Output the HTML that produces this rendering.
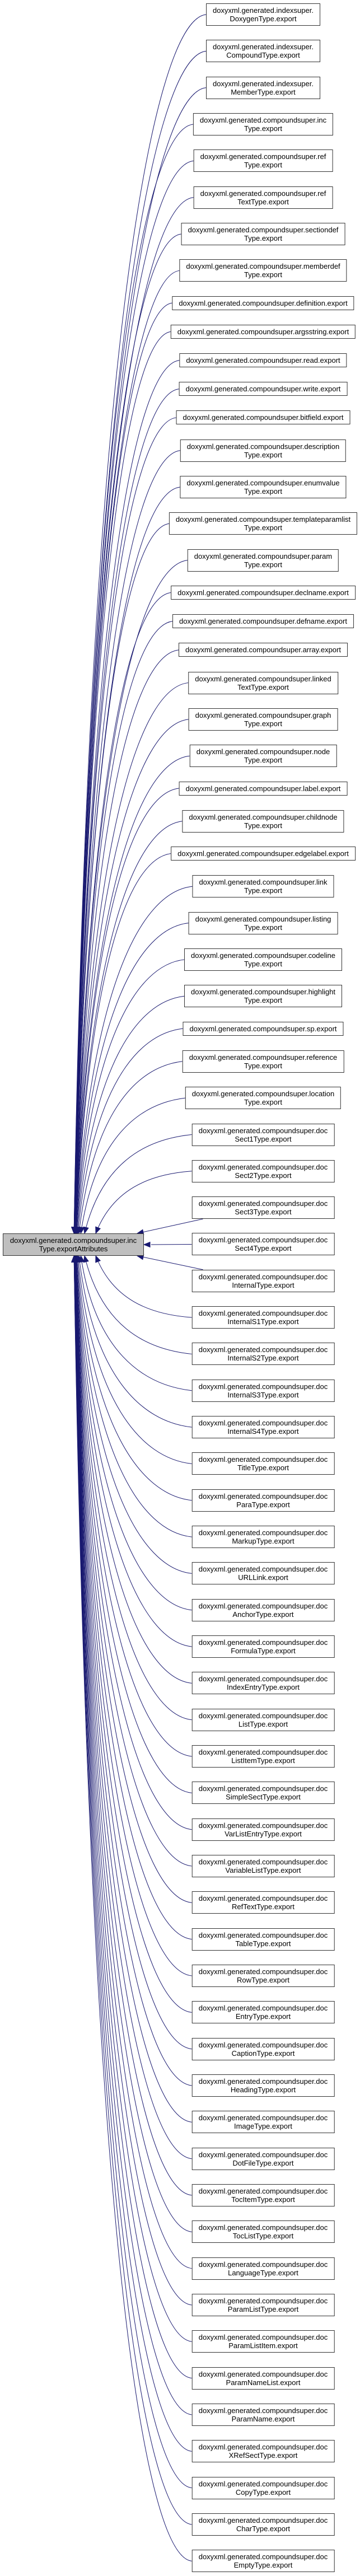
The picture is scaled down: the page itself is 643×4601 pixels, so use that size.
<!DOCTYPE html>
<html><head><meta charset="utf-8">
<style>
html,body{margin:0;padding:0;background:#fff;}
body{width:643px;height:4601px;position:relative;overflow:hidden;font-family:"Liberation Sans",Arial,sans-serif;}
.n{position:absolute;box-sizing:border-box;border:1px solid #333;background:#fff;white-space:nowrap;text-align:center;font-size:13px;line-height:15px;padding:4px 11px;color:#000;transform:translateX(-50%);}
.n.s{padding:4px 11px;height:25px;line-height:15px;}
.n.d{height:40px;}
#m{position:absolute;left:5px;top:2203px;width:252px;height:40px;box-sizing:border-box;border:1px solid #333;background:#bfbfbf;text-align:center;font-size:13px;line-height:15px;padding-top:4px;white-space:nowrap;}
svg{position:absolute;left:0;top:0;}
</style></head><body>
<svg id="e" width="643" height="4601" xmlns="http://www.w3.org/2000/svg"></svg>
<div id="m">doxyxml.generated.compoundsuper.inc<br>Type.exportAttributes</div>
<div id="nodes">
<div class="n d">doxyxml.generated.indexsuper.<br>DoxygenType.export</div>
<div class="n d">doxyxml.generated.indexsuper.<br>CompoundType.export</div>
<div class="n d">doxyxml.generated.indexsuper.<br>MemberType.export</div>
<div class="n d">doxyxml.generated.compoundsuper.inc<br>Type.export</div>
<div class="n d">doxyxml.generated.compoundsuper.ref<br>Type.export</div>
<div class="n d">doxyxml.generated.compoundsuper.ref<br>TextType.export</div>
<div class="n d">doxyxml.generated.compoundsuper.sectiondef<br>Type.export</div>
<div class="n d">doxyxml.generated.compoundsuper.memberdef<br>Type.export</div>
<div class="n s">doxyxml.generated.compoundsuper.definition.export</div>
<div class="n s">doxyxml.generated.compoundsuper.argsstring.export</div>
<div class="n s">doxyxml.generated.compoundsuper.read.export</div>
<div class="n s">doxyxml.generated.compoundsuper.write.export</div>
<div class="n s">doxyxml.generated.compoundsuper.bitfield.export</div>
<div class="n d">doxyxml.generated.compoundsuper.description<br>Type.export</div>
<div class="n d">doxyxml.generated.compoundsuper.enumvalue<br>Type.export</div>
<div class="n d">doxyxml.generated.compoundsuper.templateparamlist<br>Type.export</div>
<div class="n d">doxyxml.generated.compoundsuper.param<br>Type.export</div>
<div class="n s">doxyxml.generated.compoundsuper.declname.export</div>
<div class="n s">doxyxml.generated.compoundsuper.defname.export</div>
<div class="n s">doxyxml.generated.compoundsuper.array.export</div>
<div class="n d">doxyxml.generated.compoundsuper.linked<br>TextType.export</div>
<div class="n d">doxyxml.generated.compoundsuper.graph<br>Type.export</div>
<div class="n d">doxyxml.generated.compoundsuper.node<br>Type.export</div>
<div class="n s">doxyxml.generated.compoundsuper.label.export</div>
<div class="n d">doxyxml.generated.compoundsuper.childnode<br>Type.export</div>
<div class="n s">doxyxml.generated.compoundsuper.edgelabel.export</div>
<div class="n d">doxyxml.generated.compoundsuper.link<br>Type.export</div>
<div class="n d">doxyxml.generated.compoundsuper.listing<br>Type.export</div>
<div class="n d">doxyxml.generated.compoundsuper.codeline<br>Type.export</div>
<div class="n d">doxyxml.generated.compoundsuper.highlight<br>Type.export</div>
<div class="n s">doxyxml.generated.compoundsuper.sp.export</div>
<div class="n d">doxyxml.generated.compoundsuper.reference<br>Type.export</div>
<div class="n d">doxyxml.generated.compoundsuper.location<br>Type.export</div>
<div class="n d">doxyxml.generated.compoundsuper.doc<br>Sect1Type.export</div>
<div class="n d">doxyxml.generated.compoundsuper.doc<br>Sect2Type.export</div>
<div class="n d">doxyxml.generated.compoundsuper.doc<br>Sect3Type.export</div>
<div class="n d">doxyxml.generated.compoundsuper.doc<br>Sect4Type.export</div>
<div class="n d">doxyxml.generated.compoundsuper.doc<br>InternalType.export</div>
<div class="n d">doxyxml.generated.compoundsuper.doc<br>InternalS1Type.export</div>
<div class="n d">doxyxml.generated.compoundsuper.doc<br>InternalS2Type.export</div>
<div class="n d">doxyxml.generated.compoundsuper.doc<br>InternalS3Type.export</div>
<div class="n d">doxyxml.generated.compoundsuper.doc<br>InternalS4Type.export</div>
<div class="n d">doxyxml.generated.compoundsuper.doc<br>TitleType.export</div>
<div class="n d">doxyxml.generated.compoundsuper.doc<br>ParaType.export</div>
<div class="n d">doxyxml.generated.compoundsuper.doc<br>MarkupType.export</div>
<div class="n d">doxyxml.generated.compoundsuper.doc<br>URLLink.export</div>
<div class="n d">doxyxml.generated.compoundsuper.doc<br>AnchorType.export</div>
<div class="n d">doxyxml.generated.compoundsuper.doc<br>FormulaType.export</div>
<div class="n d">doxyxml.generated.compoundsuper.doc<br>IndexEntryType.export</div>
<div class="n d">doxyxml.generated.compoundsuper.doc<br>ListType.export</div>
<div class="n d">doxyxml.generated.compoundsuper.doc<br>ListItemType.export</div>
<div class="n d">doxyxml.generated.compoundsuper.doc<br>SimpleSectType.export</div>
<div class="n d">doxyxml.generated.compoundsuper.doc<br>VarListEntryType.export</div>
<div class="n d">doxyxml.generated.compoundsuper.doc<br>VariableListType.export</div>
<div class="n d">doxyxml.generated.compoundsuper.doc<br>RefTextType.export</div>
<div class="n d">doxyxml.generated.compoundsuper.doc<br>TableType.export</div>
<div class="n d">doxyxml.generated.compoundsuper.doc<br>RowType.export</div>
<div class="n d">doxyxml.generated.compoundsuper.doc<br>EntryType.export</div>
<div class="n d">doxyxml.generated.compoundsuper.doc<br>CaptionType.export</div>
<div class="n d">doxyxml.generated.compoundsuper.doc<br>HeadingType.export</div>
<div class="n d">doxyxml.generated.compoundsuper.doc<br>ImageType.export</div>
<div class="n d">doxyxml.generated.compoundsuper.doc<br>DotFileType.export</div>
<div class="n d">doxyxml.generated.compoundsuper.doc<br>TocItemType.export</div>
<div class="n d">doxyxml.generated.compoundsuper.doc<br>TocListType.export</div>
<div class="n d">doxyxml.generated.compoundsuper.doc<br>LanguageType.export</div>
<div class="n d">doxyxml.generated.compoundsuper.doc<br>ParamListType.export</div>
<div class="n d">doxyxml.generated.compoundsuper.doc<br>ParamListItem.export</div>
<div class="n d">doxyxml.generated.compoundsuper.doc<br>ParamNameList.export</div>
<div class="n d">doxyxml.generated.compoundsuper.doc<br>ParamName.export</div>
<div class="n d">doxyxml.generated.compoundsuper.doc<br>XRefSectType.export</div>
<div class="n d">doxyxml.generated.compoundsuper.doc<br>CopyType.export</div>
<div class="n d">doxyxml.generated.compoundsuper.doc<br>CharType.export</div>
<div class="n d">doxyxml.generated.compoundsuper.doc<br>EmptyType.export</div>
</div>
<script>
(function(){
var els=document.querySelectorAll('#nodes .n');
var y=6, MID=36, out='';
var C='#191970';
function arrow(ex,ey,dx,dy){
  var L=Math.sqrt(dx*dx+dy*dy)||1; dx/=L; dy/=L;
  var bx=ex-dx*11, by=ey-dy*11, px=-dy*4.5, py=dx*4.5;
  return '<polygon points="'+ex+','+ey+' '+(bx+px)+','+(by+py)+' '+(bx-px)+','+(by-py)+'" fill="'+C+'" stroke="'+C+'"/>';
}
for(var i=0;i<els.length;i++){
  var e=els[i], two=e.classList.contains('d');
  var h=two?40:25;
  e.style.left='470px'; e.style.top=y.toFixed(1)+'px';
  var top=y; y+= two?65.33:51.2;
  var w=e.offsetWidth, left=470-w/2, cy=top+h/2;
  var n=i-MID;
  if(n===0){
    out+='<path d="M'+left+','+cy+' L270,2223" stroke="'+C+'" fill="none"/>';
    out+=arrow(257,2223,-1,0);
    continue;
  }
  var above=n<0, an=Math.abs(n);
  var ey=above?2203:2243;
  if(an===1){
    var sx=left+20, sy=above?top+h:top;
    var ex=245;
    out+='<path d="M'+sx+','+sy+' L'+ex+','+ey+'" stroke="'+C+'" fill="none"/>';
    out+=arrow(ex,ey,ex-sx,ey-sy);
    continue;
  }
  var ex=131+40/(an-1);
  var sx=left, sy=cy;
  var dy=ey-sy;
  var c1x=sx-Math.min(100,0.45*(sx-ex)), c1y=sy+(dy>0?1:-1)*Math.min(10,Math.abs(dy)*0.05);
  var c2x=ex+ (an<4?30:25), c2y=sy+0.3*dy;
  out+='<path d="M'+sx+','+sy+' C'+c1x+','+c1y+' '+c2x+','+c2y+' '+ex+','+ey+'" stroke="'+C+'" fill="none"/>';
  out+=arrow(ex,ey,ex-c2x,ey-c2y);
}
document.getElementById('e').innerHTML=out;
})();
</script>
</body></html>
